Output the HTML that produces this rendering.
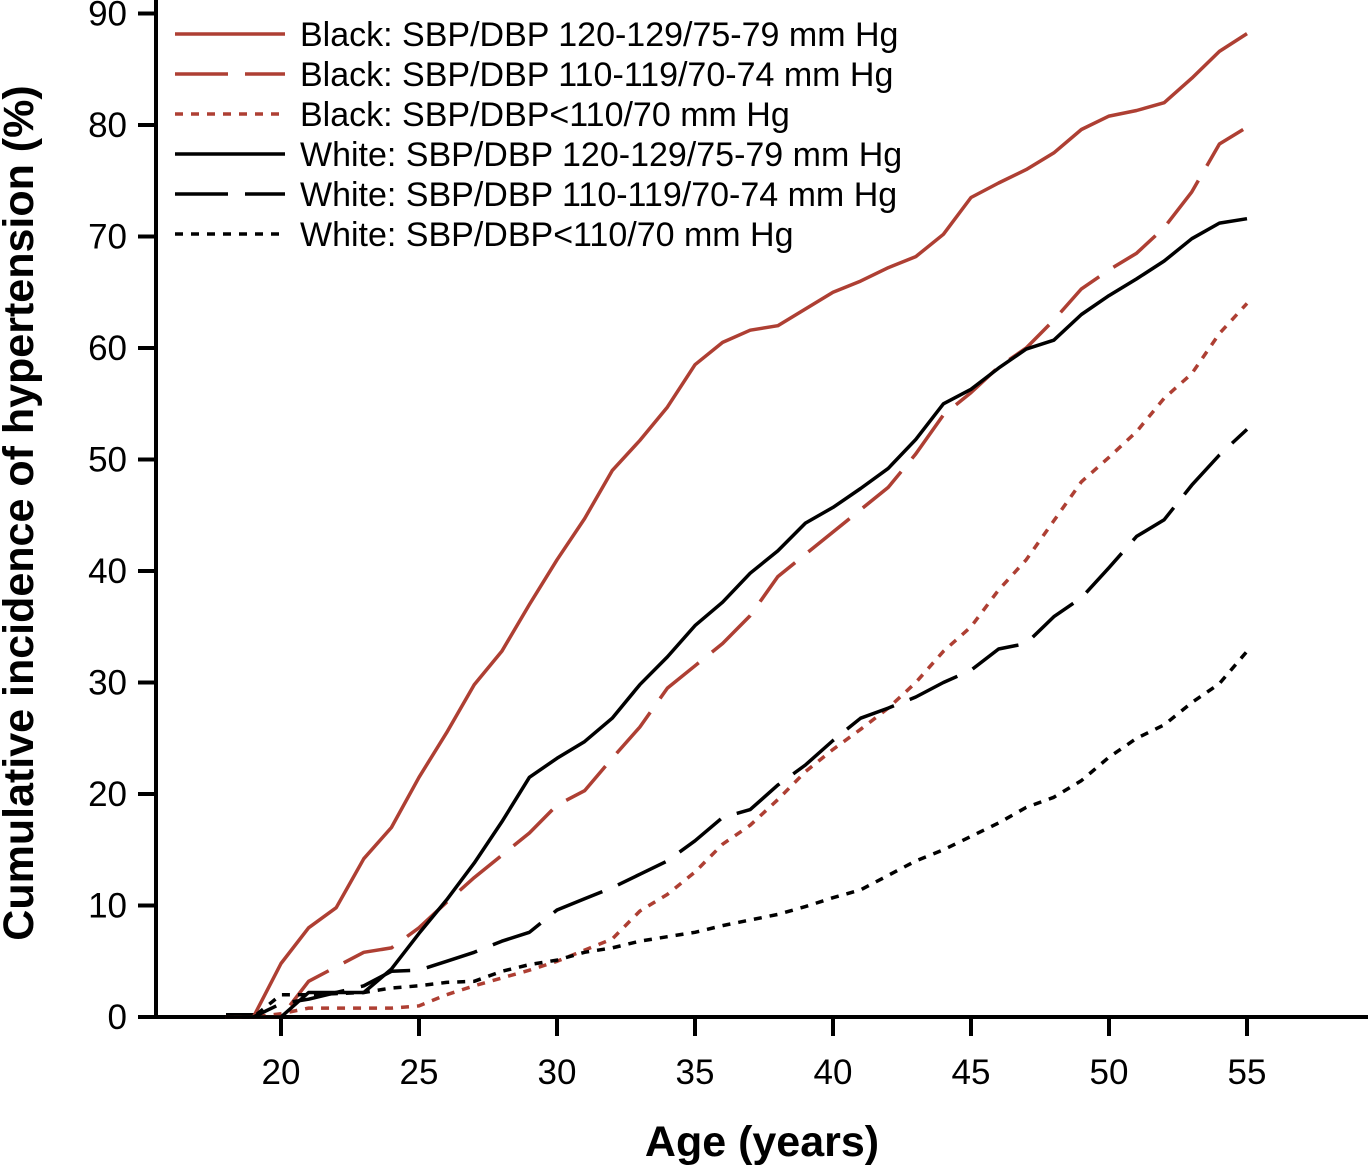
<!DOCTYPE html>
<html><head><meta charset="utf-8"><style>
html,body{margin:0;padding:0;background:#fff;}
svg{display:block;font-family:"Liberation Sans",Arial,sans-serif;}
</style></head><body>
<svg id="s" width="1370" height="1165" viewBox="0 0 1370 1165" xmlns="http://www.w3.org/2000/svg">
<g stroke="#000" stroke-width="4" fill="none">
<line x1="156" y1="0" x2="156" y2="1019"/>
<line x1="154" y1="1017" x2="1368" y2="1017"/>
</g>
<g id="ticks" stroke="#000" stroke-width="4"></g>
<g id="lbl" font-size="35" fill="#000"></g>
<text x="762" y="1156" font-size="43" font-weight="bold" text-anchor="middle">Age (years)</text>
<text transform="translate(33,513) rotate(-90)" font-size="43" font-weight="bold" text-anchor="middle">Cumulative incidence of hypertension (%)</text>
<g id="series" fill="none" stroke-width="3.5" stroke-linejoin="round"></g>
<g id="leg" font-size="34"></g>
</svg>
<script>
var NS="http://www.w3.org/2000/svg";
function px(a){return 281+(a-20)*27.6;}
function py(v){return 1017-v*11.15;}
function el(p,t,at,txt){var e=document.createElementNS(NS,t);for(var k in at)e.setAttribute(k,at[k]);if(txt)e.textContent=txt;document.getElementById(p).appendChild(e);}
for(var v=0;v<=90;v+=10){el("ticks","line",{x1:138,x2:156,y1:py(v),y2:py(v)});el("lbl","text",{x:127,y:py(v)+12,"text-anchor":"end"},""+v);}
for(var a=20;a<=55;a+=5){el("ticks","line",{x1:px(a),x2:px(a),y1:1017,y2:1036});el("lbl","text",{x:px(a),y:1084,"text-anchor":"middle"},""+a);}
var R="#ae3f33",K="#000";
var S=[
[R,"",[0,0,4.8,8,9.8,14.2,17,21.5,25.5,29.8,32.8,37,41,44.7,49,51.7,54.7,58.5,60.5,61.6,62,63.5,65,66,67.2,68.2,70.2,73.5,74.8,76,77.5,79.6,80.8,81.3,82,84.2,86.6,88.2],"Black: SBP/DBP 120-129/75-79 mm Hg"],
[R,"53 17",[0,0,0,3.2,4.5,5.8,6.2,8,10.3,12.5,14.5,16.5,19,20.3,23.2,26,29.5,31.5,33.5,36,39.5,41.5,43.5,45.5,47.5,50.5,54,56,58.3,60,62.5,65.3,67,68.5,70.8,74,78.3,79.8],"Black: SBP/DBP 110-119/70-74 mm Hg"],
[R,"8 8",[0,0,0.3,0.8,0.8,0.8,0.8,1,2,2.8,3.5,4.2,5,6,7,9.5,11,13,15.5,17.2,19.5,22,24,25.8,27.7,30,32.8,35,38.3,41,44.5,48,50.2,52.5,55.5,57.7,61.3,64],"Black: SBP/DBP<110/70 mm Hg"],
[K,"",[0,0,0,2.2,2.2,2.2,4.3,7.5,10.5,13.8,17.5,21.5,23.2,24.7,26.8,29.8,32.3,35.1,37.2,39.8,41.8,44.3,45.7,47.4,49.2,51.8,55,56.3,58.2,59.9,60.7,63,64.7,66.2,67.8,69.8,71.2,71.6],"White: SBP/DBP 120-129/75-79 mm Hg"],
[K,"53 17",[0,0,1.2,1.6,2.2,2.8,4.1,4.2,5,5.8,6.8,7.6,9.6,10.6,11.6,12.8,14,15.8,17.9,18.6,20.8,22.6,24.8,26.8,27.7,28.7,30,31.1,33,33.5,35.9,37.6,40.3,43.1,44.6,47.7,50.4,52.7],"White: SBP/DBP 110-119/70-74 mm Hg"],
[K,"8 8",[0,0,2,2,2.1,2.2,2.6,2.8,3.1,3.2,4.1,4.7,5.1,5.8,6.2,6.8,7.2,7.6,8.2,8.7,9.2,9.9,10.7,11.4,12.7,14,15,16.2,17.4,18.8,19.7,21.2,23.3,25,26.2,28.2,29.9,32.8],"White: SBP/DBP<110/70 mm Hg"]];
el("series","line",{x1:226,x2:256,y1:1015,y2:1015,stroke:K,"stroke-width":4});
S.forEach(function(s,i){
 var d=s[2].map(function(v,j){return (j?"L":"M")+px(18+j).toFixed(1)+" "+py(v).toFixed(1);}).join(" ");
 var at={d:d,stroke:s[0]};if(s[1])at["stroke-dasharray"]=s[1];el("series","path",at);
 var y=34+i*40;var la={x1:175,x2:285,y1:y,y2:y,stroke:s[0],"stroke-width":3.5};if(s[1])la["stroke-dasharray"]=s[1];el("leg","line",la);
 el("leg","text",{x:300,y:y+12},s[3]);
});
</script>
</body></html>
